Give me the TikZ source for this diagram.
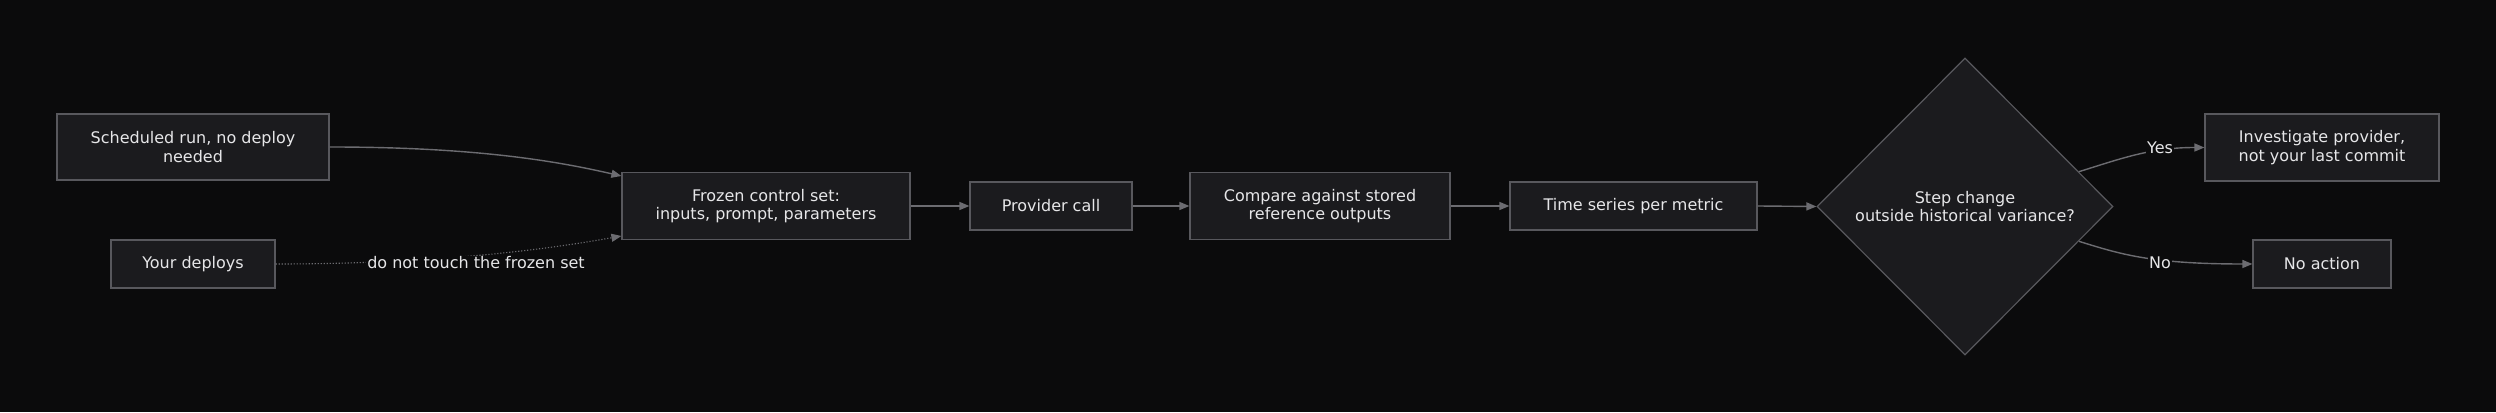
\documentclass[tikz,border=0pt]{standalone}
\usepackage{fontspec}
\setmainfont{DejaVu Sans}
\usetikzlibrary{arrows.meta}
\usetikzlibrary{calc}
\usetikzlibrary{shapes.geometric}
\definecolor{bgcol}{HTML}{0B0B0C}
\definecolor{boxfill}{HTML}{1B1B1E}
\definecolor{boxline}{HTML}{58585D}
\definecolor{edgecol}{HTML}{6C6C71}
\definecolor{txtcol}{HTML}{E6E6E8}

\begin{document}
\begin{tikzpicture}[
  x=1pt, y=1pt,
  > = {Triangle[length=10pt,width=8pt]},
  every node/.style = {font=\fontsize{16}{18.5}\selectfont, text=txtcol},
  box/.style = {draw=boxline, fill=boxfill, line width=1.2pt, align=center, inner sep=0pt},
  decision/.style = {diamond, draw=boxline, fill=boxfill, line width=1.2pt, align=center, inner sep=0pt, minimum width=296pt, minimum height=297pt},
  flow/.style = {draw=edgecol, line width=1.4pt, ->},
  weak/.style = {draw=edgecol, line width=1.1pt, dash pattern=on 1.2pt off 1.8pt, -{Triangle[length=10pt,width=8pt,sep=0pt]}},
  edgelabel/.style = {fill=bgcol, inner sep=1pt}
  ]
	\fill[bgcol] (0,0) rectangle (2496,412);
	\useasboundingbox (0,0) rectangle (2496,412);

	\node[box, minimum width=272pt, minimum height=66pt] (sched) at (193,265) {Scheduled run, no deploy\\needed};
	\node[box, minimum width=164pt, minimum height=48pt] (deploys) at (193,148) {Your deploys};
	\node[box, minimum width=288pt, minimum height=67pt] (frozen) at (766,206) {Frozen control set:\\inputs, prompt, parameters};
	\node[box, minimum width=162pt, minimum height=48pt] (provider) at (1051,206) {Provider call};
	\node[box, minimum width=260pt, minimum height=67pt] (compare) at (1320,206) {Compare against stored\\reference outputs};
	\node[box, minimum width=247pt, minimum height=48pt] (series) at (1633.5,206) {Time series per metric};
	\node[decision] (step) at (1965,205.5) {Step change\\outside historical variance?};
	\node[box, minimum width=234pt, minimum height=67pt] (investigate) at (2322,264.5) {Investigate provider,\\not your last commit};
	\node[box, minimum width=138pt, minimum height=48pt] (noaction) at (2322,148) {No action};

	% into the frozen set
	\draw[flow] (sched.east) .. controls (480,265) and (560,250) .. ($(frozen.west)+(0,30)$);
	\draw[weak] (deploys.east) .. controls (450,148) and (560,165) .. ($(frozen.west)+(0,-30)$);
	\node[edgelabel] (touch) at (476,149) {do not touch the frozen set};

	% main line
	\draw[flow] (frozen.east) -- (provider.west);
	\draw[flow] (provider.east) -- (compare.west);
	\draw[flow] (compare.east) -- (series.west);
	\draw[flow] (series.east) -- (step.west);

	% decision
	\draw[flow] (step.17) .. controls (2120,253) and (2150,264.5) .. (investigate.west);
	\draw[flow] (step.-17) .. controls (2120,158) and (2150,148) .. (noaction.west);
	\node[edgelabel] (yes) at (2160,264) {Yes};
	\node[edgelabel] (no) at (2160,149) {No};

\end{tikzpicture}
\end{document}
